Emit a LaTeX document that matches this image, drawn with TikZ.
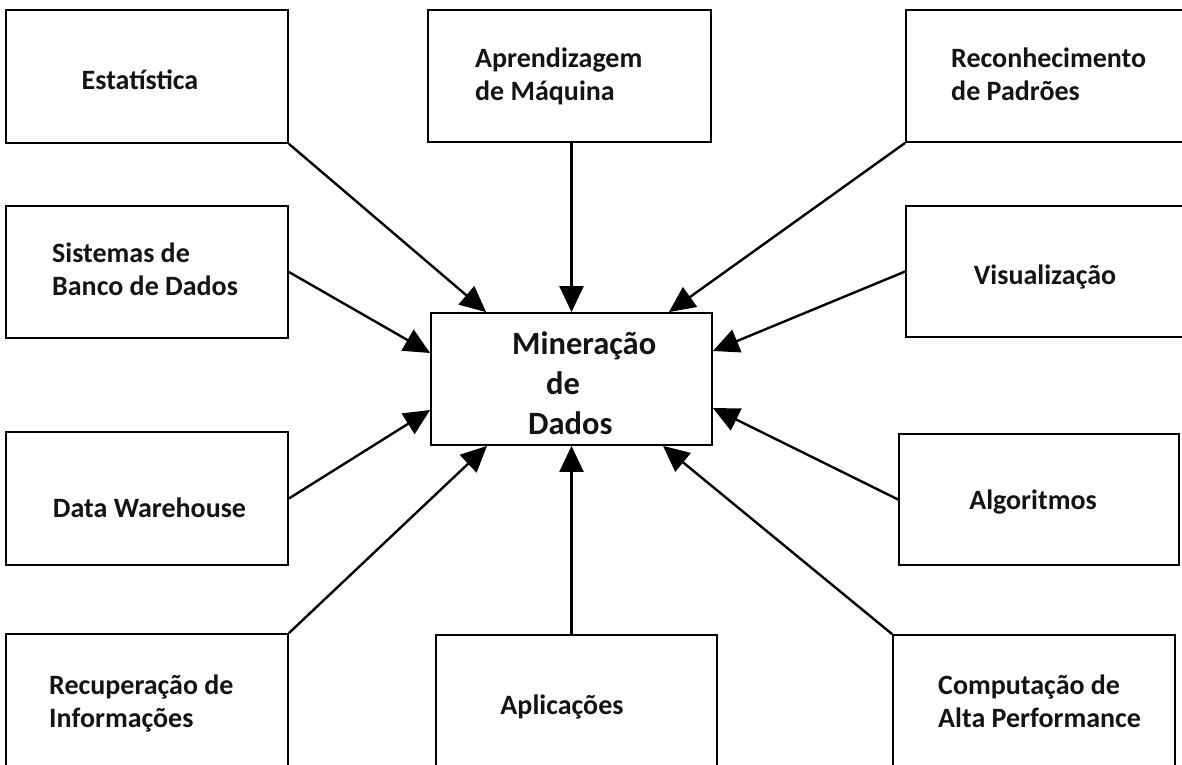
\documentclass[tikz,border=0pt]{standalone}
\usepackage{fontspec}
\setmainfont{Carlito}
\usetikzlibrary{arrows.meta}
\begin{document}
\begin{tikzpicture}[x=1pt,y=-1pt,
  box/.style={draw=black,line width=1.8pt,rectangle,inner sep=0pt},
  lbl/.style={font=\bfseries\fontsize{28}{33}\selectfont,align=left,inner sep=0pt,text=black!92},
  big/.style={font=\bfseries\fontsize{32.5}{40}\selectfont,align=left,inner sep=0pt,text=black!92},
  feed/.style={line width=2.4pt,-{Triangle[length=26pt,width=24pt]}}]
\useasboundingbox (0,0) rectangle (1182,764);
\clip (0,0) rectangle (1182,764);

% boxes
\node[box,minimum width=282pt,minimum height=133pt] (est)  at (147,76.5) {};
\node[box,minimum width=283pt,minimum height=132pt] (apr)  at (569.5,76) {};
\node[box,minimum width=294pt,minimum height=132pt] (rec)  at (1053,76) {};
\node[box,minimum width=282pt,minimum height=132pt] (sis)  at (147,272) {};
\node[box,minimum width=294pt,minimum height=131pt] (vis)  at (1053,271.5) {};
\node[box,minimum width=281pt,minimum height=132pt] (mine) at (571.5,379) {};
\node[box,minimum width=282pt,minimum height=133pt] (dw)   at (147,498.5) {};
\node[box,minimum width=280pt,minimum height=131pt] (alg)  at (1039,499.5) {};
\node[box,minimum width=282pt,minimum height=150pt] (ret)  at (147,709) {};
\node[box,minimum width=281pt,minimum height=150pt] (apl)  at (576.5,710) {};
\node[box,minimum width=282pt,minimum height=150pt] (hpc)  at (1034,710) {};

% labels
\node[lbl] (t-est) at (140,80) {Estatística};
\node[lbl,anchor=west] (t-apr) at (475,76.5) {Aprendizagem\\de Máquina};
\node[lbl,anchor=west] (t-rec) at (951,74) {Reconhecimento\\de Padrões};
\node[lbl,anchor=west] (t-sis) at (52,269) {Sistemas de\\Banco de Dados};
\node[lbl] (t-vis) at (1045,277) {Visualização};
\node[big,anchor=west] (t-mine) at (512,383) {Mineração\\\hspace*{34pt}de\\\hspace*{16pt}Dados};
\node[lbl] (t-dw) at (149.5,508) {Data Warehouse};
\node[lbl] (t-alg) at (1033,502) {Algoritmos};
\node[lbl,anchor=west] (t-ret) at (49,704) {Recuperação de\\Informações};
\node[lbl] (t-apl) at (562,707) {Aplicações};
\node[lbl,anchor=west] (t-hpc) at (938,701.5) {Computação de\\Alta Performance};

% connectors into the central box
\draw[feed] (est.south east) -- ([xshift=56pt]mine.north west);
\draw[feed] (mine.north |- apr.south) -- (mine.north);
\draw[feed] (rec.south west) -- ([xshift=-44pt]mine.north east);
\draw[feed] (sis.east) -- ([yshift=26pt]mine.west);
\draw[feed] (vis.west) -- ([yshift=28pt]mine.east);
\draw[feed] (dw.east) -- ([yshift=-31pt]mine.west);
\draw[feed] (alg.west) -- ([yshift=-29pt]mine.east);
\draw[feed] (ret.north east) -- ([xshift=-84.5pt]mine.south);
\draw[feed] (mine.south |- apl.north) -- (mine.south);
\draw[feed] (hpc.north west) -- ([xshift=91.5pt]mine.south);
\end{tikzpicture}
\end{document}
